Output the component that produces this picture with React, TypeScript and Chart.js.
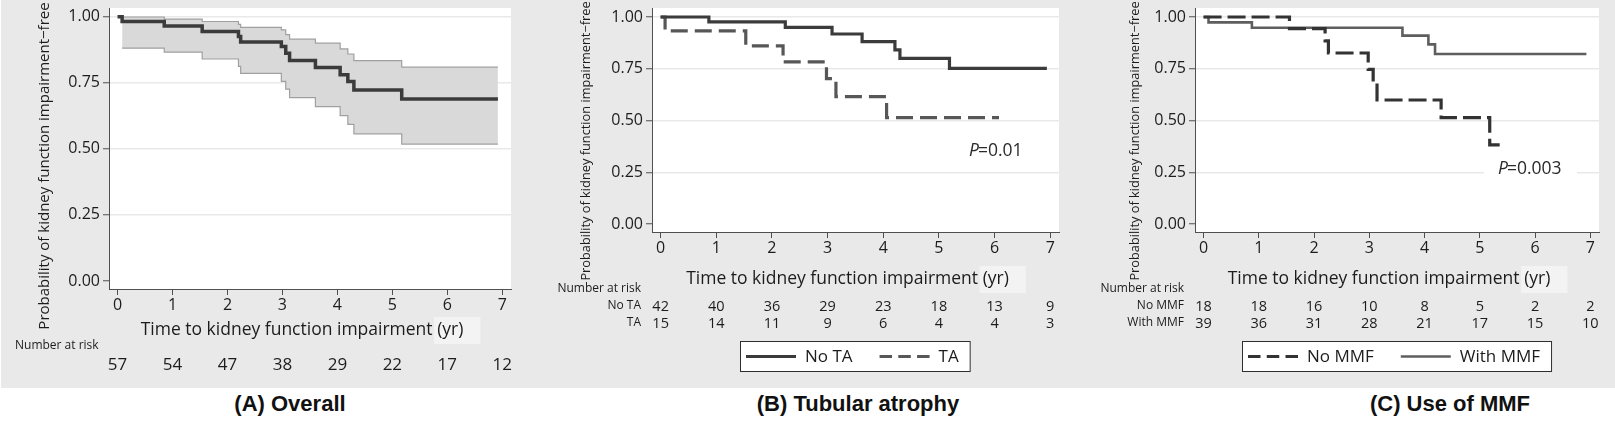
import React, { useEffect, useRef } from "react";
import { Chart, registerables } from "chart.js";

Chart.register(...registerables);

// ---------------- data ----------------
const xTickValues = [0, 1, 2, 3, 4, 5, 6, 7];
const yTickValues = [0, 0.25, 0.5, 0.75, 1];

// (A) Overall
const overallTimes = [0, 0.084, 0.85, 1.54, 2.2, 2.24, 2.98, 3.06, 3.13, 3.6, 4.05, 4.19, 4.3, 5.17, 6.92];
const overallSurvival = [1, 0.982, 0.965, 0.944, 0.925, 0.904, 0.887, 0.862, 0.834, 0.808, 0.78, 0.755, 0.723, 0.689, 0.689];
const overallCiTimes = [0.084, 0.85, 1.54, 2.2, 2.24, 2.98, 3.06, 3.13, 3.6, 4.05, 4.19, 4.3, 5.17, 6.92];
const overallUpper = [0.999, 0.991, 0.982, 0.971, 0.96, 0.95, 0.932, 0.915, 0.9, 0.878, 0.859, 0.834, 0.809, 0.809];
const overallLower = [0.881, 0.866, 0.84, 0.812, 0.786, 0.755, 0.726, 0.694, 0.66, 0.626, 0.593, 0.557, 0.518, 0.518];
const overallAtRisk = [57, 54, 47, 38, 29, 22, 17, 12];

// (B) Tubular atrophy
const noTaTimes = [0, 0.867, 2.24, 3.08, 3.62, 4.21, 4.3, 5.19, 6.94];
const noTaSurvival = [1, 0.976, 0.95, 0.918, 0.881, 0.841, 0.8, 0.752, 0.752];
const taTimes = [0, 0.08, 1.53, 2.2, 2.98, 3.15, 4.06, 6.08];
const taSurvival = [1, 0.933, 0.861, 0.783, 0.702, 0.615, 0.514, 0.514];
const noTaAtRisk = [42, 40, 36, 29, 23, 18, 13, 9];
const taAtRisk = [15, 14, 11, 9, 6, 4, 4, 3];

// (C) Use of MMF
const noMmfTimes = [0, 1.555, 2.2, 2.26, 2.98, 3.07, 3.14, 4.3, 5.18, 5.36];
const noMmfSurvival = [1, 0.944, 0.885, 0.826, 0.747, 0.671, 0.599, 0.514, 0.382, 0.382];
const withMmfTimes = [0, 0.09, 0.875, 3.6, 4.07, 4.19, 6.93];
const withMmfSurvival = [1, 0.974, 0.948, 0.91, 0.868, 0.821, 0.821];
const noMmfAtRisk = [18, 18, 16, 10, 8, 5, 2, 2];
const withMmfAtRisk = [39, 36, 31, 28, 21, 17, 15, 10];

// ---------------- styling ----------------
const FONT = '"Open Sans", "Noto Sans", sans-serif';
const TEXT = "#1c1c1c";
const AXIS = "#505050";
const GRID = "#e9e9e9";
const BG = "#e9e9e9";
const CANVAS_H = 388;
const Y_TITLE = "Probability of kidney function impairment\u2212free";
const X_TITLE_MAIN = "Time to kidney function impairment ";
const X_TITLE_UNIT = "(yr)";

const pts = (xs: number[], ys: number[]) => xs.map((x, i) => ({ x, y: ys[i] }));

type Spec = {
  left: number;
  width: number;
  yAxisWidth: number;
  padRight: number;
  xAxisHeight: number;
  yMin: number;
  yMax: number;
  yTitle: { x: number; y: number; size: number };
  xTitleY: number;
  riskHeader: { x: number; y: number; align: "left" | "right" };
  riskRows: { label: string; values: number[]; y: number }[];
  riskNumSize: number;
  legend?: { top: number; height: number };
  pText?: { value: string; x: number; y: number; box?: { x: number; y: number; w: number; h: number } };
  datasets: any[];
};

const line = (label: string, xs: number[], ys: number[], color: string, width: number, dash: number[], order: number) => ({
  label,
  data: pts(xs, ys),
  borderColor: color,
  borderWidth: width,
  borderDash: dash,
  pointRadius: 0,
  stepped: true,
  fill: false,
  order,
});

const specs: Spec[] = [
  {
    left: 0,
    width: 520,
    yAxisWidth: 109,
    padRight: 9,
    xAxisHeight: 99,
    yMin: -0.0303,
    yMax: 1.033,
    yTitle: { x: 45, y: 166, size: 15 },
    xTitleY: 330,
    riskHeader: { x: 15, y: 346, align: "left" },
    riskRows: [{ label: "", values: overallAtRisk, y: 364 }],
    riskNumSize: 17,
    datasets: [
      { ...line("", overallCiTimes, overallUpper, "#a0a0a0", 1.2, [], 1) },
      { ...line("", overallCiTimes, overallLower, "#a0a0a0", 1.2, [], 2), fill: "-1", backgroundColor: "#d9d9d9" },
      line("Overall", overallTimes, overallSurvival, "#3b3b3b", 3.5, [], 0),
    ],
  },
  {
    left: 520,
    width: 540,
    yAxisWidth: 132,
    padRight: 1,
    xAxisHeight: 156,
    yMin: -0.0386,
    yMax: 1.0435,
    yTitle: { x: 66, y: 141, size: 12.8 },
    xTitleY: 279,
    riskHeader: { x: 121, y: 289, align: "right" },
    riskRows: [
      { label: "No TA", values: noTaAtRisk, y: 306 },
      { label: "TA", values: taAtRisk, y: 323 },
    ],
    riskNumSize: 14.5,
    legend: { top: 341, height: 31 },
    pText: { value: "=0.01", x: 449, y: 151 },
    datasets: [
      line("No TA", noTaTimes, noTaSurvival, "#3b3b3b", 3.2, [], 0),
      line("TA", taTimes, taSurvival, "#575757", 3.2, [17, 7], 1),
    ],
  },
  {
    left: 1060,
    width: 555,
    yAxisWidth: 135,
    padRight: 16,
    xAxisHeight: 156,
    yMin: -0.0386,
    yMax: 1.0435,
    yTitle: { x: 75, y: 141, size: 12.8 },
    xTitleY: 279,
    riskHeader: { x: 124, y: 289, align: "right" },
    riskRows: [
      { label: "No MMF", values: noMmfAtRisk, y: 306 },
      { label: "With MMF", values: withMmfAtRisk, y: 323 },
    ],
    riskNumSize: 14.5,
    legend: { top: 341, height: 31 },
    pText: { value: "=0.003", x: 438, y: 169, box: { x: 424, y: 160, w: 93, h: 20 } },
    datasets: [
      line("No MMF", noMmfTimes, noMmfSurvival, "#333333", 3.2, [18, 6], 0),
      line("With MMF", withMmfTimes, withMmfSurvival, "#5e5e5e", 2.6, [], 1),
    ],
  },
];

function decorPlugin(spec: Spec) {
  return {
    id: "decor",
    beforeDraw(chart: any) {
      const { ctx, chartArea: a } = chart;
      ctx.save();
      ctx.fillStyle = "#ffffff";
      ctx.fillRect(a.left, a.top, a.right - a.left, a.bottom - a.top);
      ctx.restore();
    },
    afterDraw(chart: any) {
      const { ctx, chartArea: a } = chart;
      const xs = chart.scales.x;
      ctx.save();
      ctx.fillStyle = TEXT;

      // y title
      ctx.save();
      ctx.font = `${spec.yTitle.size}px ${FONT}`;
      ctx.translate(spec.yTitle.x, spec.yTitle.y);
      ctx.rotate(-Math.PI / 2);
      ctx.textAlign = "center";
      ctx.textBaseline = "middle";
      ctx.fillText(Y_TITLE, 0, 0);
      ctx.restore();

      // x title with highlight box behind (yr)
      ctx.font = `17.5px ${FONT}`;
      const full = X_TITLE_MAIN + X_TITLE_UNIT;
      const fw = ctx.measureText(full).width;
      const cx = (a.left + a.right) / 2 - 8;
      const start = cx - fw / 2;
      const unitStart = start + ctx.measureText(X_TITLE_MAIN).width;
      ctx.fillStyle = "#f3f3f3";
      ctx.fillRect(unitStart - 3, spec.xTitleY - 13, fw - (unitStart - start) + 20, 27);
      ctx.fillStyle = TEXT;
      ctx.textAlign = "left";
      ctx.textBaseline = "middle";
      ctx.fillText(full, start, spec.xTitleY);

      // risk table
      ctx.font = `12px ${FONT}`;
      ctx.textAlign = spec.riskHeader.align;
      ctx.fillText("Number at risk", spec.riskHeader.x, spec.riskHeader.y);
      spec.riskRows.forEach((row) => {
        if (row.label) {
          ctx.font = `12px ${FONT}`;
          ctx.textAlign = "right";
          ctx.fillText(row.label, spec.riskHeader.x, row.y);
        }
        ctx.font = `${spec.riskNumSize}px ${FONT}`;
        ctx.textAlign = "center";
        row.values.forEach((v, i) => {
          ctx.fillText(String(v), xs.getPixelForValue(xTickValues[i]), row.y + 1);
        });
      });

      // legend
      if (spec.legend) {
        const L = spec.legend;
        const items = chart.data.datasets.filter((d: any) => d.label);
        ctx.font = `17px ${FONT}`;
        const widths = items.map((d: any) => ctx.measureText(d.label).width);
        const padL = 6, sample = 50, gapText = 9, gapItem = 27, padR = 12;
        const total =
          padL + padR + items.reduce((s: number, _d: any, i: number) => s + sample + gapText + widths[i], 0) + gapItem * (items.length - 1);
        const left = Math.round((a.left + a.right) / 2 - total / 2);
        ctx.fillStyle = "#ffffff";
        ctx.fillRect(left, L.top, total, L.height);
        ctx.strokeStyle = "#2e2e2e";
        ctx.lineWidth = 1;
        ctx.strokeRect(left + 0.5, L.top + 0.5, total - 1, L.height - 1);
        const cy = L.top + L.height / 2;
        let x = left + padL;
        items.forEach((d: any, i: number) => {
          ctx.beginPath();
          ctx.setLineDash(d.borderDash && d.borderDash.length ? [12.5, 6.25] : []);
          ctx.strokeStyle = d.borderColor;
          ctx.lineWidth = d.borderWidth;
          ctx.moveTo(x, cy);
          ctx.lineTo(x + sample, cy);
          ctx.stroke();
          ctx.setLineDash([]);
          x += sample + gapText;
          ctx.fillStyle = TEXT;
          ctx.textAlign = "left";
          ctx.textBaseline = "middle";
          ctx.fillText(d.label, x, cy + 1);
          x += widths[i] + gapItem;
        });
      }

      // P value
      if (spec.pText) {
        const P = spec.pText;
        if (P.box) {
          ctx.fillStyle = "#ffffff";
          ctx.fillRect(P.box.x, P.box.y, P.box.w, P.box.h);
        }
        ctx.fillStyle = "#2a2a2a";
        ctx.textAlign = "left";
        ctx.textBaseline = "middle";
        ctx.font = `italic 17.5px ${FONT}`;
        ctx.fillText("P", P.x, P.y);
        const pw = ctx.measureText("P").width;
        ctx.font = `17.5px ${FONT}`;
        ctx.fillText(P.value, P.x + pw - 1, P.y);
      }
      ctx.restore();
    },
  };
}

function buildConfig(spec: Spec): any {
  return {
    type: "line",
    data: { datasets: spec.datasets },
    options: {
      animation: false,
      responsive: false,
      maintainAspectRatio: false,
      events: [],
      layout: { padding: { left: 0, right: spec.padRight, top: 8, bottom: 0 } },
      plugins: {
        legend: { display: false },
        tooltip: { enabled: false },
        title: { display: false },
      },
      scales: {
        x: {
          type: "linear",
          min: -0.155,
          max: 7.158,
          afterBuildTicks: (axis: any) => {
            axis.ticks = xTickValues.map((v) => ({ value: v }));
          },
          afterFit: (axis: any) => {
            axis.height = spec.xAxisHeight;
            axis.paddingLeft = 0;
            axis.paddingRight = 0;
          },
          ticks: {
            font: { family: FONT, size: 16 },
            color: TEXT,
            padding: 1,
            maxRotation: 0,
            autoSkip: false,
            callback: (v: any) => String(v),
          },
          grid: { drawOnChartArea: false, drawTicks: true, tickLength: 6, tickColor: AXIS, tickWidth: 1 },
          border: { display: true, color: AXIS, width: 1 },
        },
        y: {
          type: "linear",
          min: spec.yMin,
          max: spec.yMax,
          afterBuildTicks: (axis: any) => {
            axis.ticks = yTickValues.map((v) => ({ value: v }));
          },
          afterFit: (axis: any) => {
            axis.width = spec.yAxisWidth;
            axis.paddingTop = 0;
            axis.paddingBottom = 0;
          },
          ticks: {
            font: { family: FONT, size: 16 },
            color: TEXT,
            padding: 3,
            callback: (v: any) => Number(v).toFixed(2),
          },
          grid: {
            color: (c: any) => (c.tick && c.tick.value === 0 ? "rgba(0,0,0,0)" : GRID),
            lineWidth: 1.5,
            drawTicks: true,
            tickLength: 6,
            tickColor: AXIS,
            tickWidth: 1,
          },
          border: { display: true, color: AXIS, width: 1 },
        },
      },
    },
    plugins: [decorPlugin(spec)],
  };
}

function Panel({ spec }: { spec: Spec }) {
  const ref = useRef<HTMLCanvasElement>(null);
  useEffect(() => {
    if (!ref.current) return;
    const chart = new Chart(ref.current, buildConfig(spec));
    return () => chart.destroy();
  }, [spec]);
  return (
    <canvas
      ref={ref}
      width={spec.width}
      height={CANVAS_H}
      style={{ position: "absolute", left: spec.left, top: 0, width: spec.width, height: CANVAS_H }}
    />
  );
}

const panelTitles = [
  { text: "(A) Overall", cx: 290 },
  { text: "(B) Tubular atrophy", cx: 858 },
  { text: "(C) Use of MMF", cx: 1450 },
];

export default function App() {
  return (
    <div style={{ position: "absolute", left: 0, top: 0, width: 1615, height: 424, background: "#ffffff", overflow: "hidden" }}>
      <div style={{ position: "absolute", left: 1, top: 0, width: 1614, height: CANVAS_H, background: BG }} />
      {specs.map((s, i) => (
        <Panel key={i} spec={s} />
      ))}
      {panelTitles.map((t, i) => (
        <div
          key={i}
          style={{
            position: "absolute",
            left: t.cx - 200,
            width: 400,
            top: 391,
            lineHeight: "26px",
            textAlign: "center",
            fontFamily: '"Liberation Sans", Arial, sans-serif',
            fontWeight: "bold",
            fontSize: 22,
            color: "#111",
          }}
        >
          {t.text}
        </div>
      ))}
    </div>
  );
}
